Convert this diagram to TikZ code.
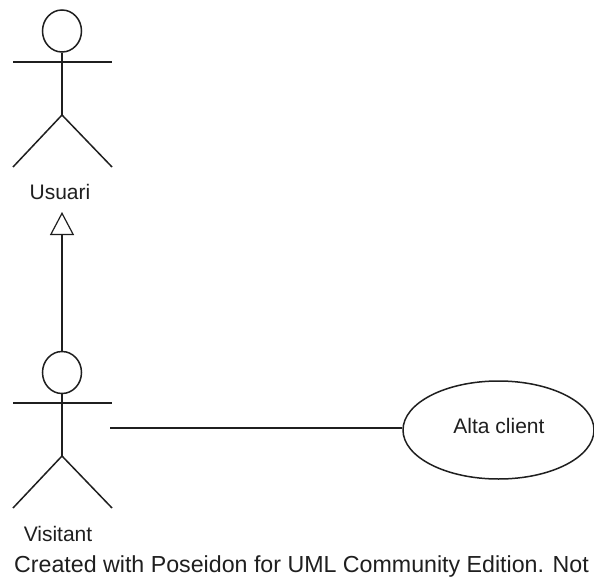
\documentclass[tikz,border=0pt]{standalone}
\usepackage{fontspec}
\setmainfont{Liberation Sans}
\usetikzlibrary{shapes.geometric,arrows.meta}
\definecolor{ink}{gray}{0.12}
\tikzset{
  wire/.style={draw=ink,line width=1.5pt},
  headshape/.style={ellipse,wire,minimum width=39pt,minimum height=42pt,inner sep=0pt},
  usecase/.style={ellipse,wire,minimum width=191pt,minimum height=98pt,inner sep=0pt},
  lbl/.style={inner sep=0pt,text=ink,font=\fontsize{21}{24}\selectfont},
  foot/.style={inner sep=0pt,text=ink,font=\fontsize{23.2}{26}\selectfont},
  gen/.style={wire,-{Triangle[open,length=23pt,width=24pt,line width=1.2pt]}}
}
\begin{document}
\begin{tikzpicture}[x=1pt,y=-1pt]
\useasboundingbox (0,0) rectangle (594,580);
\fill[white] (0,0) rectangle (594,580);
% Usuari
\node[headshape] (h1) at (62,31) {};
\coordinate (a1l) at (13,62);
\coordinate (a1r) at (112,62);
\coordinate (hip1) at (62,115);
\coordinate (f1l) at (13,167);
\coordinate (f1r) at (112,167);
\draw[wire] (a1l) -- (a1r);
\draw[wire] (h1.south) -- (hip1);
\draw[wire] (f1l) -- (hip1) -- (f1r);
\node[lbl] (usuari) at (60,192) {Usuari};
% Visitant
\node[headshape] (h2) at (62,372.5) {};
\coordinate (a2l) at (13,403);
\coordinate (a2r) at (112,403);
\coordinate (hip2) at (62,456);
\coordinate (f2l) at (13,508);
\coordinate (f2r) at (112,508);
\draw[wire] (a2l) -- (a2r);
\draw[wire] (h2.south) -- (hip2);
\draw[wire] (f2l) -- (hip2) -- (f2r);
\node[lbl] (visitant) at (58,534) {Visitant};
% Generalisation
\coordinate (gentip) at (62,212);
\draw[gen] (h2.north) -- (gentip);
% Use case
\node[usecase] (alta) at (498.5,430) {};
\node[lbl] (altatext) at (499,426) {Alta client};
\coordinate (assoc) at (110,428);
\draw[wire] (assoc) -- (assoc -| alta.west);
% Footer
\node[foot,anchor=base west] (footer) at (14,572) {Created with Poseidon for UML Community Edition. Not};
\end{tikzpicture}
\end{document}
